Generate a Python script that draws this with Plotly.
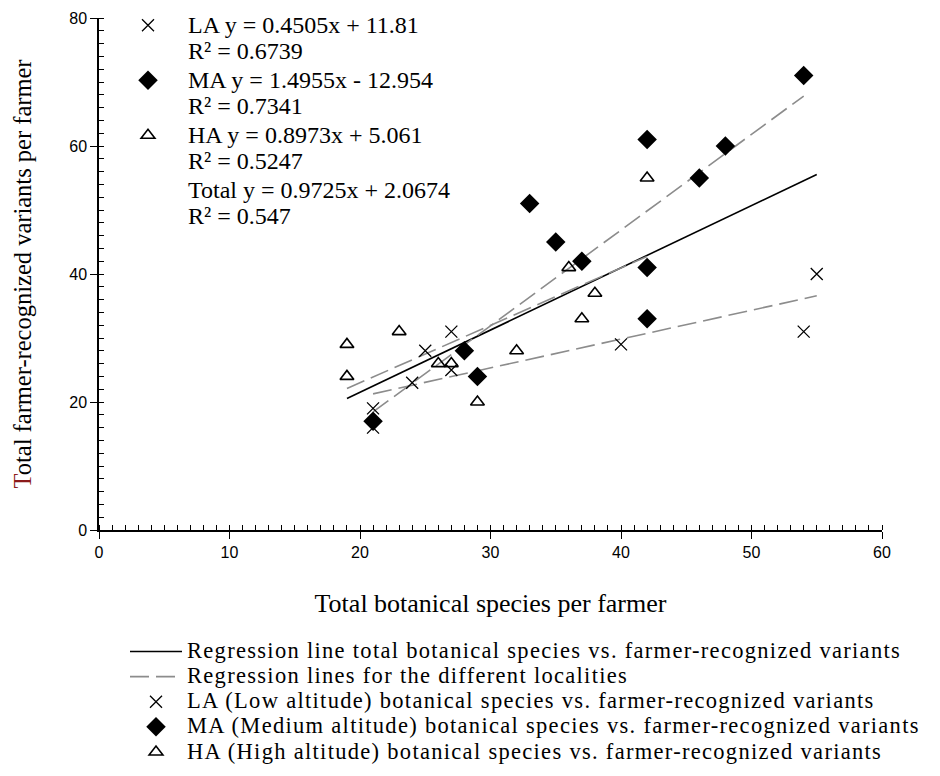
import plotly.graph_objects as go

# Botanical species vs. farmer-recognized variants, per farmer, by altitude zone
la_species = [21, 21, 24, 25, 27, 27, 40, 54, 55]
la_variants = [16, 19, 23, 28, 25, 31, 29, 31, 40]

ma_species = [21, 28, 29, 33, 35, 37, 42, 42, 42, 46, 48, 54]
ma_variants = [17, 28, 24, 51, 45, 42, 61, 41, 33, 55, 60, 71]

ha_species = [19, 19, 23, 26, 27, 29, 32, 36, 37, 38, 42]
ha_variants = [29, 24, 31, 26, 26, 20, 28, 41, 33, 37, 55]

# Linear regressions: slope, intercept, R²
la_fit = [0.4505, 11.81, 0.6739]
ma_fit = [1.4955, -12.954, 0.7341]
ha_fit = [0.8973, 5.061, 0.5247]
total_fit = [0.9725, 2.0674, 0.547]

SERIF = "Liberation Serif"
SANS = "Liberation Sans"
DASH_GREY = "#8c8c8c"


def fit_line(xs, fit):
    x0, x1 = min(xs), max(xs)
    return [x0, x1], [fit[0] * x0 + fit[1], fit[0] * x1 + fit[1]]


def equation(label, fit):
    sign = "+" if fit[1] >= 0 else "-"
    return f"{label} y = {fit[0]}x {sign} {abs(fit[1])}"


def big(text, size, spacing=0):
    style = f"font-size:{size}px"
    if spacing:
        style += f";letter-spacing:{spacing}px"
    return f'<span style="{style}">{text}</span>'


def key(text):
    return big(text, 22.5, 1.3)


EQ_SIZE = 24  # equation key text

all_species = la_species + ma_species + ha_species

fig = go.Figure()

# Regression lines
tx, ty = fit_line(all_species, total_fit)
fig.add_trace(go.Scatter(
    x=tx, y=ty, mode="lines", line=dict(color="black", width=1.6),
    name=key("Regression line total botanical species vs. farmer-recognized variants"),
    legend="legend"))

for i, (xs, fit) in enumerate([(la_species, la_fit), (ma_species, ma_fit), (ha_species, ha_fit)]):
    lx, ly = fit_line(xs, fit)
    fig.add_trace(go.Scatter(
        x=lx, y=ly, mode="lines",
        line=dict(color=DASH_GREY, width=1.6, dash="19px,7px"),
        name=key("Regression lines for the different localities"),
        showlegend=(i == 0), legend="legend"))

# Observations
la_marker = dict(symbol="x-thin-open", size=12, color="black", line=dict(color="black", width=1.3))
ma_marker = dict(symbol="diamond", size=15, color="black", line=dict(color="black", width=0))
ha_marker = dict(symbol="triangle-up-open", size=12, color="black", line=dict(color="black", width=1.6))

fig.add_trace(go.Scatter(
    x=la_species, y=la_variants, mode="markers", marker=la_marker,
    name=key("LA (Low altitude) botanical species vs. farmer-recognized variants"),
    legend="legend"))
fig.add_trace(go.Scatter(
    x=ma_species, y=ma_variants, mode="markers", marker=ma_marker,
    name=key("MA (Medium altitude) botanical species vs. farmer-recognized variants"),
    legend="legend"))
fig.add_trace(go.Scatter(
    x=ha_species, y=ha_variants, mode="markers", marker=ha_marker,
    name=key("HA (High altitude) botanical species vs. farmer-recognized variants"),
    legend="legend"))

# Equation key inside the plot area
for label, fit, marker in [("LA", la_fit, la_marker), ("MA", ma_fit, ma_marker), ("HA", ha_fit, ha_marker)]:
    fig.add_trace(go.Scatter(
        x=[None], y=[None], mode="markers", marker=marker,
        name=big(equation(label, fit), EQ_SIZE) + "<br>" + big(f"R² = {fit[2]}", EQ_SIZE),
        legend="legend2"))
fig.add_trace(go.Scatter(
    x=[None], y=[None], mode="lines", line=dict(color="rgba(0,0,0,0)", width=0),
    name=big(equation("Total", total_fit), EQ_SIZE) + "<br>" + big(f"R² = {total_fit[2]}", EQ_SIZE),
    legend="legend2"))

axis_common = dict(
    showline=True, linecolor="black", linewidth=1.5,
    showgrid=False, zeroline=False,
    ticks="outside", ticklen=7, tickwidth=1.3, tickcolor="black",
    tickfont=dict(family=SANS, size=16, color="black"),
)

fig.update_layout(
    width=940, height=776,
    margin=dict(l=99, r=58, t=18, b=246, autoexpand=False),
    paper_bgcolor="white", plot_bgcolor="white",
    font=dict(family=SERIF, color="black"),
    xaxis=dict(
        range=[0, 60], dtick=10,
        minor=dict(dtick=1, ticks="inside", ticklen=5, tickwidth=1, tickcolor="black"),
        title=dict(text="Total botanical species per farmer",
                   font=dict(family=SERIF, size=26, color="black"), standoff=34),
        **axis_common),
    yaxis=dict(
        range=[0, 80], dtick=20,
        minor=dict(dtick=2, ticks="inside", ticklen=5, tickwidth=1, tickcolor="black"),
        title=dict(text='<span style="color:#8b1a1a">T</span>otal farmer-recognized variants per farmer',
                   font=dict(family=SERIF, size=24.5, color="black"), standoff=31),
        **axis_common),
    legend=dict(
        x=(125 - 99) / 783, y=(530 - 634) / 512, xanchor="left", yanchor="top",
        font=dict(family=SERIF, size=17, color="black"),
        itemwidth=52, bgcolor="rgba(0,0,0,0)", borderwidth=0,
        itemclick=False, itemdoubleclick=False),
    legend2=dict(
        x=(108 - 99) / 783, y=1.024, xanchor="left", yanchor="top",
        font=dict(family=SERIF, size=20, color="black"),
        itemwidth=70, valign="top", bgcolor="rgba(0,0,0,0)", borderwidth=0,
        itemclick=False, itemdoubleclick=False),
)

fig.write_html("out.html")
